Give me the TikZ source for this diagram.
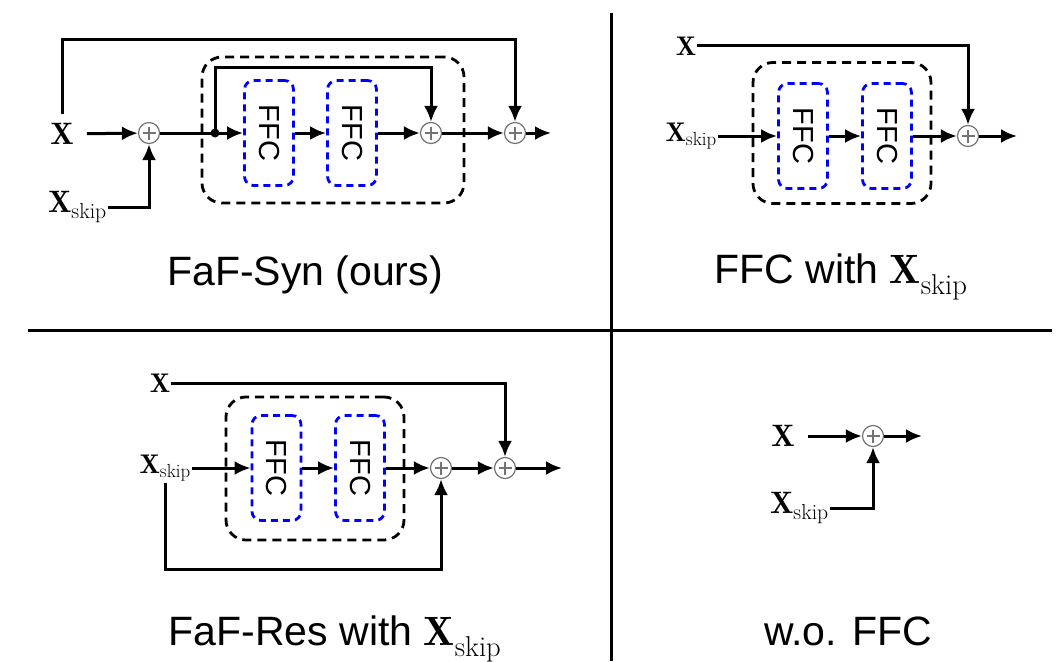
\documentclass[tikz,border=0pt]{standalone}
\usepackage{fontspec}
\usepackage{graphicx}
\newfontfamily\capfont{Liberation Sans}
\usetikzlibrary{arrows.meta}
\begin{document}
\begin{tikzpicture}[x=1pt,y=-1pt,
  wire/.style={line width=3pt},
  conn/.style={line width=3pt,-{Latex[length=16pt,width=14pt]}},
  adder/.style={circle,draw=black!55,line width=1.2pt,minimum size=21pt,inner sep=0pt,
    path picture={\draw[black!55,line width=1.2pt]
      (path picture bounding box.center) ++(-6.5pt,0) -- ++(13pt,0)
      (path picture bounding box.center) ++(0,-6.5pt) -- ++(0,13pt);}},
  ffc/.style={draw=blue,line width=2.8pt,dash pattern=on 7pt off 5pt,rounded corners=9pt,
    minimum width=49pt,minimum height=105pt,inner sep=0pt,font=\capfont\fontsize{29}{30}\selectfont},
  grp/.style={draw,line width=2.8pt,dash pattern=on 9pt off 6pt,rounded corners=20pt,inner sep=0pt},
  inbig/.style={inner sep=1pt,font=\fontsize{31}{34}\selectfont},
  inlbl/.style={inner sep=1pt,font=\fontsize{27}{30}\selectfont},
  capt/.style={anchor=base,inner sep=0pt,font=\capfont\fontsize{41}{48}\selectfont},
  divider/.style={line width=3pt}]
\useasboundingbox (0,0) rectangle (1056,661);

% dividing lines
\coordinate (vtop) at (611,13);
\coordinate (vbot) at (611,661);
\coordinate (hleft) at (28,330);
\coordinate (hright) at (1052,330);
\draw[divider] (vtop) -- (vbot);
\draw[divider] (hleft) -- (hright);

% FaF-Syn (ours)
\node[grp,minimum width=262pt,minimum height=146pt] (grpA) at (333,130) {};
\node[ffc] (ffcA1) at (269,133) {\rotatebox{-90}{FFC}};
\node[ffc] (ffcA2) at (352,133) {\rotatebox{-90}{FFC}};
\node[inbig] (xA) at (62,134) {$\mathbf{X}$};
\node[inbig,anchor=east] (xsA) at (108,207) {$\mathbf{X}_{\mathrm{skip}}$};
\node[adder] (sA1) at (149,133) {};
\node[adder] (sA2) at (431,133) {};
\node[adder] (sA3) at (515,133) {};
\coordinate (dotA) at (215,133);
\coordinate (outA) at (551,133);
\fill (dotA) circle (4.5pt);
\draw[conn,shorten <=12pt] (xA) -- (sA1);
\draw[conn] (xsA.east) -| (sA1.south);
\draw[wire] (sA1) -- (dotA);
\draw[conn] (dotA) -- (ffcA1);
\draw[conn] (ffcA1) -- (ffcA2);
\draw[conn] (ffcA2) -- (sA2);
\draw[conn] (sA2) -- (sA3);
\draw[conn] (sA3) -- (outA);
\draw[conn] (dotA) -- (dotA |- 0,67) -| (sA2.north);
\draw[conn,shorten <=8pt] (xA.north) -- (xA.north |- 0,39.5) -| (sA3.north);
\node[capt] (capA) at (305,285) {FaF-Syn (ours)};

% FFC with X_skip
\node[grp,minimum width=178pt,minimum height=141pt] (grpB) at (842,133) {};
\node[ffc] (ffcB1) at (803,136) {\rotatebox{-90}{FFC}};
\node[ffc] (ffcB2) at (887,136) {\rotatebox{-90}{FFC}};
\node[inlbl] (xB) at (686,46) {$\mathbf{X}$};
\node[inlbl,anchor=east] (xsB) at (718,136) {$\mathbf{X}_{\mathrm{skip}}$};
\node[adder] (sB) at (968,136) {};
\coordinate (outB) at (1017,136);
\draw[conn] (xsB.east) -- (ffcB1);
\draw[conn] (ffcB1) -- (ffcB2);
\draw[conn] (ffcB2) -- (sB);
\draw[conn] (sB) -- (outB);
\draw[conn] (xB.east) -| (sB.north);
\node[capt] (capB) at (841,283) {FFC with $\mathbf{X}_{\mathrm{skip}}$};

% FaF-Res with X_skip
\node[grp,minimum width=178pt,minimum height=143pt] (grpC) at (315,468.5) {};
\node[ffc] (ffcC1) at (276.5,468) {\rotatebox{-90}{FFC}};
\node[ffc] (ffcC2) at (360,468) {\rotatebox{-90}{FFC}};
\node[inlbl] (xC) at (160,383) {$\mathbf{X}$};
\node[inlbl,anchor=east] (xsC) at (192,468) {$\mathbf{X}_{\mathrm{skip}}$};
\node[adder] (sC1) at (441,468) {};
\node[adder] (sC2) at (505,468) {};
\coordinate (outC) at (562,468);
\draw[conn] (xsC.east) -- (ffcC1);
\draw[conn] (ffcC1) -- (ffcC2);
\draw[conn] (ffcC2) -- (sC1);
\draw[conn] (sC1) -- (sC2);
\draw[conn] (sC2) -- (outC);
\draw[conn] (xC.east) -| (sC2.north);
\draw[conn] (xsC.south) -- (xsC.south |- 0,569) -| (sC1.south);
\node[capt] (capC) at (335,645) {FaF-Res with $\mathbf{X}_{\mathrm{skip}}$};

% w.o. FFC
\node[inbig] (xD) at (783,436) {$\mathbf{X}$};
\node[inbig,anchor=east] (xsD) at (830,508) {$\mathbf{X}_{\mathrm{skip}}$};
\node[adder] (sD) at (873,436) {};
\coordinate (outD) at (922,436);
\draw[conn,shorten <=12pt] (xD) -- (sD);
\draw[conn] (sD) -- (outD);
\draw[conn] (xsD.east) -| (sD.south);
\node[capt] (capD) at (848,645) {w.o. FFC};
\end{tikzpicture}
\end{document}
